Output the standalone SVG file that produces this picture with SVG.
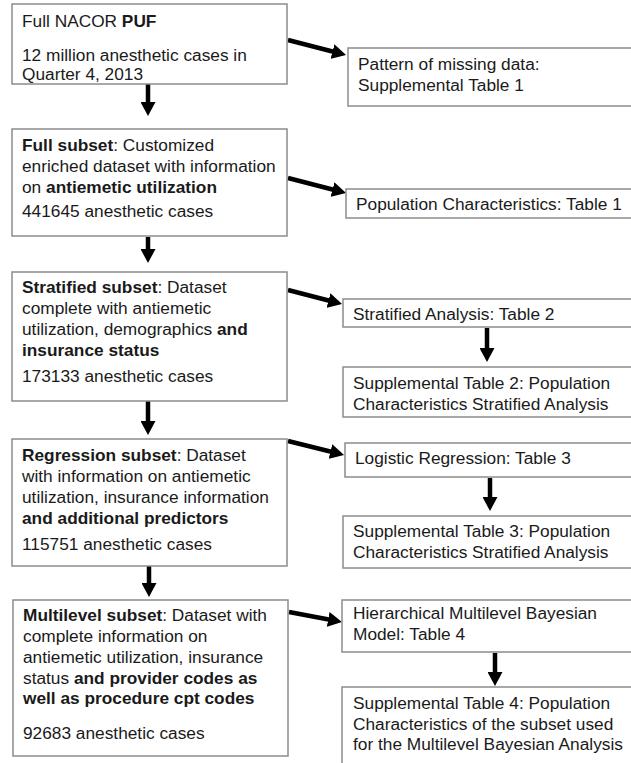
<svg xmlns="http://www.w3.org/2000/svg" width="631" height="763" viewBox="0 0 631 763">
<style>
  .box { fill: #ffffff; stroke: #8c8c8c; stroke-width: 1.5; }
  text { font-family: "Liberation Sans", Arial, sans-serif; font-size: 17.3px; fill: #1a1a1a; }
  .b { font-weight: bold; }
  .arr { stroke: #000; stroke-width: 4.5; fill: none; marker-end: url(#ah); }
</style>
<defs>
  <marker id="ah" viewBox="0 0 14 15" refX="6" refY="7.5" markerWidth="14" markerHeight="15" markerUnits="userSpaceOnUse" orient="auto">
    <path d="M0,0 L14,7.5 L0,15 z" fill="#000"/>
  </marker>
</defs>
<rect width="631" height="763" fill="#ffffff"/>

<g id="connectors">
  <line class="arr" x1="148" y1="84" x2="148" y2="108"/>
  <line class="arr" x1="148" y1="237" x2="148" y2="255"/>
  <line class="arr" x1="148" y1="401" x2="148" y2="427"/>
  <line class="arr" x1="149" y1="566" x2="149" y2="589"/>
  <line class="arr" x1="487" y1="328" x2="487" y2="354"/>
  <line class="arr" x1="490" y1="478" x2="490" y2="503"/>
  <line class="arr" x1="495" y1="653" x2="495" y2="678"/>
  <line class="arr" x1="288" y1="40" x2="338.3" y2="53"/>
  <line class="arr" x1="288" y1="178" x2="338.3" y2="191"/>
  <line class="arr" x1="288" y1="290" x2="334.3" y2="302"/>
  <line class="arr" x1="288" y1="441" x2="336.3" y2="453"/>
  <line class="arr" x1="289" y1="612" x2="334.1" y2="620.5"/>
</g>

<g id="node-full-nacor">
  <rect class="box" x="12" y="4" width="275" height="80"/>
  <text x="22" y="27">Full NACOR <tspan class="b">PUF</tspan></text>
  <text x="22" y="61">12 million anesthetic cases in</text>
  <text x="22" y="80">Quarter 4, 2013</text>
</g>

<g id="node-pattern-missing">
  <rect class="box" x="348" y="48" width="300" height="58"/>
  <text x="358" y="70">Pattern of missing data:</text>
  <text x="358" y="91">Supplemental Table 1</text>
</g>

<g id="node-full-subset">
  <rect class="box" x="12" y="129" width="275" height="107"/>
  <text x="22" y="151"><tspan class="b">Full subset</tspan>: Customized</text>
  <text x="22" y="172">enriched dataset with information</text>
  <text x="22" y="193">on <tspan class="b">antiemetic utilization</tspan></text>
  <text x="22" y="217">441645 anesthetic cases</text>
</g>

<g id="node-table1">
  <rect class="box" x="346" y="189" width="300" height="29"/>
  <text x="356" y="210">Population Characteristics: Table 1</text>
</g>

<g id="node-stratified-subset">
  <rect class="box" x="12" y="272" width="275" height="129"/>
  <text x="22" y="293"><tspan class="b">Stratified subset</tspan>: Dataset</text>
  <text x="22" y="314">complete with antiemetic</text>
  <text x="22" y="335">utilization, demographics <tspan class="b">and</tspan></text>
  <text x="22" y="356" class="b">insurance status</text>
  <text x="22" y="382">173133 anesthetic cases</text>
</g>

<g id="node-table2">
  <rect class="box" x="343" y="299" width="300" height="28"/>
  <text x="353" y="320">Stratified Analysis: Table 2</text>
</g>

<g id="node-supp2">
  <rect class="box" x="343" y="367" width="300" height="50"/>
  <text x="353" y="389">Supplemental Table 2: Population</text>
  <text x="353" y="410">Characteristics Stratified Analysis</text>
</g>

<g id="node-regression-subset">
  <rect class="box" x="12" y="439" width="275" height="127"/>
  <text x="22" y="461"><tspan class="b">Regression subset</tspan>: Dataset</text>
  <text x="22" y="482">with information on antiemetic</text>
  <text x="22" y="503">utilization, insurance information</text>
  <text x="22" y="524" class="b">and additional predictors</text>
  <text x="22" y="550">115751 anesthetic cases</text>
</g>

<g id="node-table3">
  <rect class="box" x="345" y="443" width="300" height="34"/>
  <text x="355" y="464">Logistic Regression: Table 3</text>
</g>

<g id="node-supp3">
  <rect class="box" x="343" y="516" width="300" height="52"/>
  <text x="353" y="537">Supplemental Table 3: Population</text>
  <text x="353" y="558">Characteristics Stratified Analysis</text>
</g>

<g id="node-multilevel-subset">
  <rect class="box" x="13" y="600" width="275" height="156"/>
  <text x="23" y="621"><tspan class="b">Multilevel subset</tspan>: Dataset with</text>
  <text x="23" y="642">complete information on</text>
  <text x="23" y="663">antiemetic utilization, insurance</text>
  <text x="23" y="684">status <tspan class="b">and provider codes as</tspan></text>
  <text x="23" y="704" class="b">well as procedure cpt codes</text>
  <text x="23" y="739">92683 anesthetic cases</text>
</g>

<g id="node-table4">
  <rect class="box" x="342" y="600" width="300" height="52"/>
  <text x="353" y="619">Hierarchical Multilevel Bayesian</text>
  <text x="353" y="640">Model: Table 4</text>
</g>

<g id="node-supp4">
  <rect class="box" x="342" y="687" width="300" height="90"/>
  <text x="353" y="709">Supplemental Table 4: Population</text>
  <text x="353" y="730">Characteristics of the subset used</text>
  <text x="353" y="750">for the Multilevel Bayesian Analysis</text>
</g>
</svg>
